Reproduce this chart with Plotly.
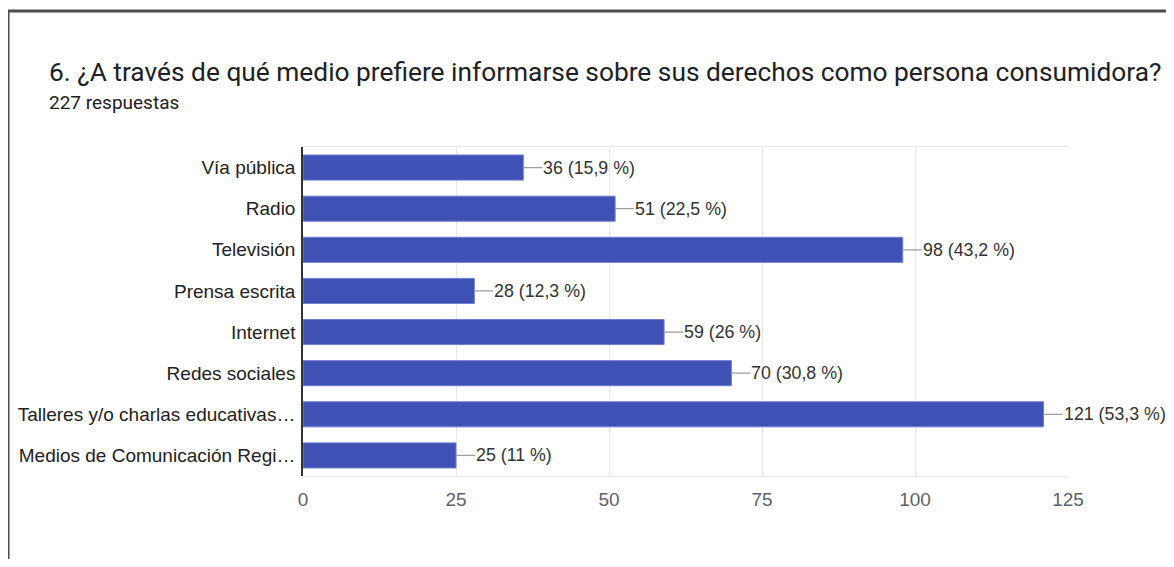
import plotly.graph_objects as go

# la página añade 8 px de margen: todo se mide en px de la figura (ref - 8)
W, H = 1158, 551
L, R, T, B = 295, 98, 139, 83

categorias = [
    "Vía pública",
    "Radio",
    "Televisión",
    "Prensa escrita",
    "Internet",
    "Redes sociales",
    "Talleres y/o charlas educativas…",
    "Medios de Comunicación Regi…",
]
respuestas = [36, 51, 98, 28, 59, 70, 121, 25]
porcentajes = ["15,9", "22,5", "43,2", "12,3", "26", "30,8", "53,3", "11"]
ticks_x = [0, 25, 50, 75, 100, 125]

FONT_TIT = "Roboto, Arial, sans-serif"
FONT = "Arial, 'Liberation Sans', sans-serif"
INDIGO = "#3f51b5"


def px_x(p):
    return (p - L) / (W - L - R)


def px_y(p):
    return (H - B - p) / (H - T - B)


fig = go.Figure(
    go.Bar(
        x=respuestas,
        y=categorias,
        orientation="h",
        marker=dict(color=INDIGO, line=dict(color="#6f7fd0", width=1)),
        width=0.61,
        hoverinfo="skip",
    )
)

# etiquetas con su línea guía gris
for cat, val, pct in zip(categorias, respuestas, porcentajes):
    fig.add_annotation(
        x=val, y=cat, xref="x", yref="y",
        text=f"{val} ({pct} %)",
        showarrow=True, arrowhead=0, arrowwidth=1.2, arrowcolor="#9e9e9e",
        ax=19, ay=0, xanchor="left", yanchor="middle", borderpad=0,
        font=dict(family=FONT, size=17.8, color="#333333"),
    )

fig.add_annotation(
    x=px_x(39), y=px_y(64), xref="paper", yref="paper",
    text="6. ¿A través de qué medio prefiere informarse sobre sus derechos como persona consumidora?",
    showarrow=False, xanchor="left", yanchor="middle",
    font=dict(family=FONT_TIT, size=26.3, color="#202124"),
)
fig.add_annotation(
    x=px_x(39), y=px_y(94), xref="paper", yref="paper",
    text="227 respuestas",
    showarrow=False, xanchor="left", yanchor="middle",
    font=dict(family=FONT_TIT, size=19, color="#202124"),
)

# marco de la captura
fig.add_shape(type="line", xref="paper", yref="paper",
              x0=px_x(0), y0=px_y(3), x1=px_x(1180), y1=px_y(3),
              line=dict(color="#4d4d4d", width=3))
fig.add_shape(type="line", xref="paper", yref="paper",
              x0=px_x(0), y0=px_y(3), x1=px_x(0), y1=px_y(600),
              line=dict(color="#4d4d4d", width=3))

fig.update_xaxes(
    range=[0, 125], tickvals=ticks_x, showgrid=True, gridcolor="#e8e8e8", gridwidth=1,
    zeroline=False, showline=True, linecolor="#e8e8e8", mirror=True, automargin=False,
    tickfont=dict(family=FONT, size=19, color="#5f6368"), ticks="", ticklabelstandoff=6,
)
fig.update_yaxes(
    autorange="reversed", showgrid=False, showline=True, linecolor="#333333", linewidth=1.5,
    automargin=False,
    tickfont=dict(family=FONT, size=19, color="#222222"), ticks="", ticklabelstandoff=2,
)
fig.update_layout(
    width=W, height=H, margin=dict(l=L, r=R, t=T, b=B),
    paper_bgcolor="white", plot_bgcolor="white", showlegend=False,
)

fig.write_html("out.html")
